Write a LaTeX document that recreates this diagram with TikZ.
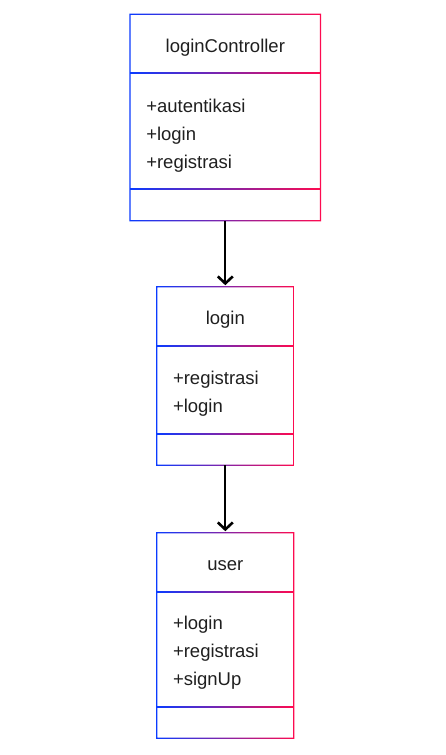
\documentclass[tikz,border=0pt]{standalone}
\usepackage{fontspec}
\setmainfont{Liberation Sans}
\usetikzlibrary{positioning,arrows.meta}

\definecolor{gblue}{HTML}{0A3BFF}
\definecolor{gred}{HTML}{FF0A4F}

% gradient outline round head/body/foot of one class box
\newcommand{\gradbox}[3]{%
  \shade[left color=gblue,right color=gred,even odd rule]
    ([shift={(-0.65pt,0.65pt)}]#1.north west) rectangle ([shift={(0.65pt,-0.65pt)}]#3.south east)
    ([shift={(0.65pt,-0.65pt)}]#1.north west) rectangle ([shift={(-0.65pt,0.65pt)}]#3.south east);
  \shade[left color=gblue,right color=gred]
    ([yshift=0.65pt]#2.north west) rectangle ([yshift=-0.65pt]#2.north east);
  \shade[left color=gblue,right color=gred]
    ([yshift=0.65pt]#3.north west) rectangle ([yshift=-0.65pt]#3.north east);
}

\begin{document}
\begin{tikzpicture}[x=1pt,y=-1pt,
        part/.style={rectangle,inner sep=0pt,outer sep=0pt},
        head/.style={part,anchor=north,minimum height=59pt,text height=18pt,text depth=1pt,
          font=\fontsize{18.5pt}{22pt}\selectfont,text=black!88},
        member/.style={anchor=base west,inner sep=0pt,
          font=\fontsize{18.5pt}{22pt}\selectfont,text=black!88},
        link/.style={draw=black,line width=1.7pt,-{Straight Barb[length=7pt,width=15pt,line width=2.6pt]}}
      ]
      \useasboundingbox (0,0) rectangle (445,755);

      % loginController
      \node[head,minimum width=190.5pt] (lc-head) at (225.3,14.3) {loginController};
      \node[part,minimum width=190.5pt,minimum height=116pt,below=0pt of lc-head] (lc-body) {};
      \node[part,minimum width=190.5pt,minimum height=31.5pt,below=0pt of lc-body] (lc-foot) {};
      \foreach \m [count=\i] in {+autentikasi,+login,+registrasi}
        \node[member] (lc-m\i) at ([xshift=16pt,yshift=-39pt-(\i-1)*28pt]lc-body.north west) {\m};
      \gradbox{lc-head}{lc-body}{lc-foot}

      % login
      \node[head,minimum width=137pt] (lg-head) at (225.3,286.7) {login};
      \node[part,minimum width=137pt,minimum height=88pt,below=0pt of lg-head] (lg-body) {};
      \node[part,minimum width=137pt,minimum height=31.5pt,below=0pt of lg-body] (lg-foot) {};
      \foreach \m [count=\i] in {+registrasi,+login}
        \node[member] (lg-m\i) at ([xshift=16pt,yshift=-39pt-(\i-1)*28pt]lg-body.north west) {\m};
      \gradbox{lg-head}{lg-body}{lg-foot}

      % user
      \node[head,minimum width=137pt] (us-head) at (225.3,532.7) {user};
      \node[part,minimum width=137pt,minimum height=115pt,below=0pt of us-head] (us-body) {};
      \node[part,minimum width=137pt,minimum height=31.5pt,below=0pt of us-body] (us-foot) {};
      \foreach \m [count=\i] in {+login,+registrasi,+signUp}
        \node[member] (us-m\i) at ([xshift=16pt,yshift=-38pt-(\i-1)*28pt]us-body.north west) {\m};
      \gradbox{us-head}{us-body}{us-foot}

      \draw[link] (lc-foot.south) -- ([yshift=1.5pt]lg-head.north);
      \draw[link] (lg-foot.south) -- ([yshift=1.5pt]us-head.north);
    \end{tikzpicture}
\end{document}
